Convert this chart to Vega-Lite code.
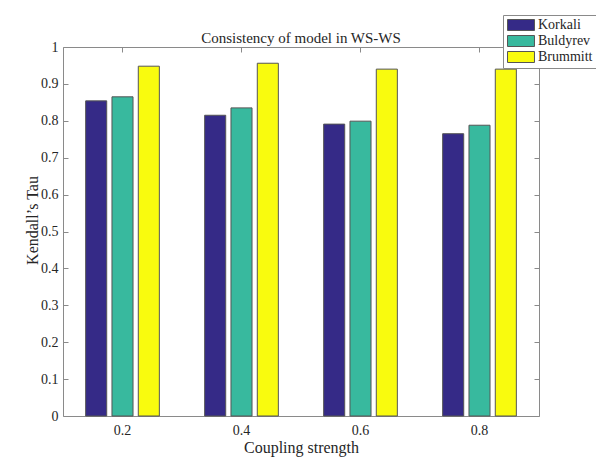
{
  "$schema": "https://vega.github.io/schema/vega-lite/v6.json",
  "width": 476,
  "height": 369,
  "autosize": {"type": "none"},
  "padding": {"left": 63, "top": 47, "right": 57, "bottom": 47},
  "background": "white",
  "config": {
    "font": "Liberation Serif",
    "view": {"stroke": "#8a8a8a", "strokeWidth": 1},
    "axis": {
      "domainColor": "#8a8a8a",
      "tickColor": "#8a8a8a",
      "labelColor": "#262626",
      "titleColor": "#262626",
      "labelFont": "Liberation Serif",
      "titleFont": "Liberation Serif",
      "labelFontSize": 14,
      "titleFontSize": 16,
      "titleFontWeight": "normal",
      "grid": false
    },
    "legend": {
      "labelFont": "Liberation Serif",
      "labelFontSize": 14,
      "labelColor": "#262626"
    }
  },
  "title": {
    "text": "Consistency of model in WS-WS",
    "font": "Liberation Serif",
    "fontSize": 15,
    "fontWeight": "normal",
    "color": "#262626",
    "offset": 3,
    "dy": 34
  },
  "data": {
    "values": [
      {"c": "0.2", "model": "Korkali", "tau": 0.854},
      {"c": "0.2", "model": "Buldyrev", "tau": 0.865},
      {"c": "0.2", "model": "Brummitt", "tau": 0.948},
      {"c": "0.4", "model": "Korkali", "tau": 0.815},
      {"c": "0.4", "model": "Buldyrev", "tau": 0.835},
      {"c": "0.4", "model": "Brummitt", "tau": 0.956},
      {"c": "0.6", "model": "Korkali", "tau": 0.791},
      {"c": "0.6", "model": "Buldyrev", "tau": 0.799},
      {"c": "0.6", "model": "Brummitt", "tau": 0.94},
      {"c": "0.8", "model": "Korkali", "tau": 0.765},
      {"c": "0.8", "model": "Buldyrev", "tau": 0.788},
      {"c": "0.8", "model": "Brummitt", "tau": 0.94}
    ]
  },
  "layer": [
    {
      "mark": {"type": "bar", "stroke": "#555555", "strokeWidth": 1},
      "encoding": {
        "x": {
          "field": "c", "type": "nominal",
          "scale": {"paddingInner": 0, "paddingOuter": 0},
          "axis": {"orient": "bottom", "title": "Coupling strength", "labelAngle": 0, "domain": false, "tickSize": -5, "labelPadding": 12, "titlePadding": 2}
        },
        "xOffset": {
          "field": "model", "type": "nominal",
          "sort": ["Korkali", "Buldyrev", "Brummitt"],
          "scale": {"paddingInner": 0.2, "paddingOuter": 0.86}
        },
        "y": {
          "field": "tau", "type": "quantitative",
          "scale": {"domain": [0, 1], "nice": false},
          "axis": {"orient": "left", "title": "Kendall’s Tau", "values": [0, 0.1, 0.2, 0.3, 0.4, 0.5, 0.6, 0.7, 0.8, 0.9, 1], "labelExpr": "datum.value == 0 ? '0' : datum.value == 1 ? '1' : datum.label", "domain": false, "tickSize": -5, "labelPadding": 10, "titlePadding": 0, "titleY": 173}
        },
        "color": {
          "field": "model", "type": "nominal",
          "sort": ["Korkali", "Buldyrev", "Brummitt"],
          "scale": {"domain": ["Korkali", "Buldyrev", "Brummitt"], "range": ["#352a87", "#38b99e", "#f9fb0e"]},
          "legend": {
            "title": null,
            "orient": "none",
            "legendX": 440,
            "legendY": -32,
            "symbolType": "M-2.45,-1H2.45V1H-2.45Z",
            "symbolSize": 121,
            "symbolOffset": 8,
            "symbolStrokeColor": "#555555",
            "symbolStrokeWidth": 1,
            "labelFont": "Liberation Serif",
            "labelFontSize": 14,
            "labelColor": "#262626",
            "rowPadding": 0,
            "labelOffset": 10,
            "padding": 3,
            "strokeColor": "#8a8a8a",
            "fillColor": "white",
            "encode": {"labels": {"update": {"font": {"value": "Liberation Serif"}, "fontSize": {"value": 14}}}}
          }
        }
      }
    },
    {
      "mark": {"type": "bar", "opacity": 0},
      "encoding": {
        "x": {
          "field": "c", "type": "nominal",
          "axis": {"orient": "top", "title": null, "labels": false, "domain": false, "tickSize": -5}
        },
        "xOffset": {"field": "model", "type": "nominal", "sort": ["Korkali", "Buldyrev", "Brummitt"]},
        "y": {
          "field": "tau", "type": "quantitative",
          "axis": {"orient": "right", "title": null, "labels": false, "domain": false, "tickSize": -5, "values": [0, 0.1, 0.2, 0.3, 0.4, 0.5, 0.6, 0.7, 0.8, 0.9, 1]}
        }
      }
    }
  ],
  "resolve": {"axis": {"x": "independent", "y": "independent"}}
}
